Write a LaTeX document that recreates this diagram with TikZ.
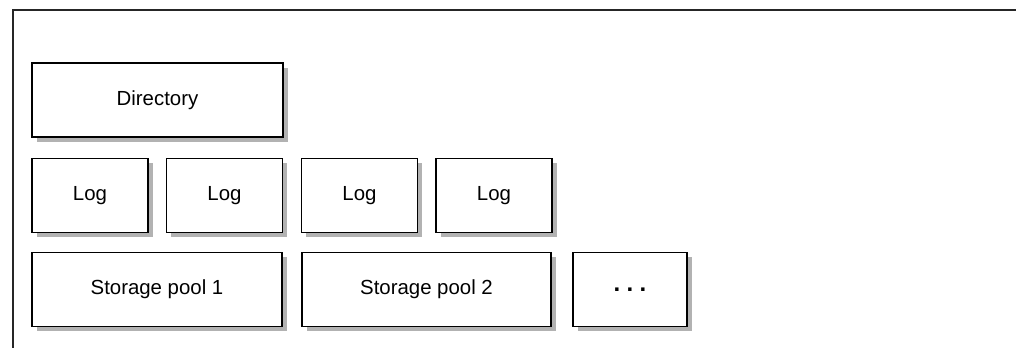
\documentclass[tikz,border=0pt]{standalone}
\usepackage{fontspec}
\setmainfont{Liberation Sans}
\usepackage{tikz}
\usetikzlibrary{shadows}

\begin{document}
\begin{tikzpicture}[x=0.5pt,y=-0.5pt,
	blk/.style={draw,line width=0.95pt,fill=white,minimum height=37pt,inner sep=0pt,font=\fontsize{10.2}{12}\selectfont,
		drop shadow={shadow xshift=2.3pt,shadow yshift=-2.3pt,fill=black!30,opacity=1}},
	frame/.style={line width=0.8pt,black!85}]
	\useasboundingbox (0,0) rectangle (1016,348);
	%frame
	\coordinate (corner) at (13,10);
	\coordinate (right) at (1016,10);
	\coordinate (bottom) at (13,348);
	\draw[frame] (right) -- (corner) -- (bottom);
	%directory
	\node[blk,minimum width=125.5pt] (dir) at (157.5,100) {Directory};
	%logs
	\node[blk,minimum width=58pt] (log1) at (90,195.5) {Log};
	\node[blk,minimum width=58pt] (log2) at (224.5,195.5) {Log};
	\node[blk,minimum width=58pt] (log3) at (359.5,195.5) {Log};
	\node[blk,minimum width=58pt] (log4) at (494,195.5) {Log};
	%storage pools
	\node[blk,minimum width=125pt] (pool1) at (157,289.5) {Storage pool 1};
	\node[blk,minimum width=124.5pt] (pool2) at (426.5,289.5) {Storage pool 2};
	\node[blk,minimum width=57pt] (more) at (630,289.5) {\fontsize{12}{12}\selectfont\textbf{.\hspace{3.2pt}.\hspace{3.2pt}.}};
\end{tikzpicture}
\end{document}
